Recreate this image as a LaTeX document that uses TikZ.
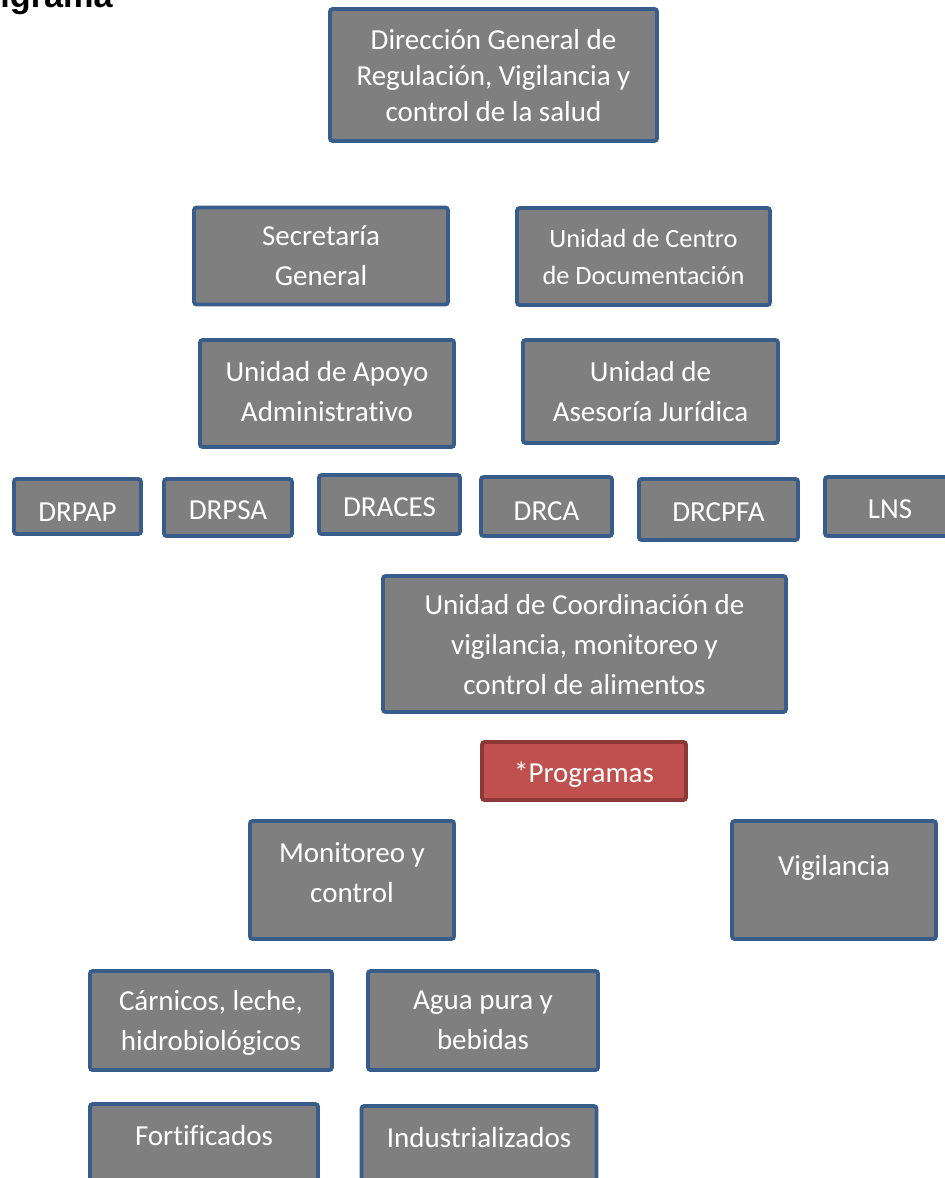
\documentclass[tikz,border=0pt]{standalone}
\usepackage{fontspec}
\setmainfont{Carlito}[Ligatures=NoCommon]
\newfontfamily\titlefont{Liberation Sans}
\definecolor{boxgray}{RGB}{127,127,127}
\definecolor{boxblue}{RGB}{56,93,138}
\definecolor{progred}{RGB}{192,80,77}
\definecolor{progborder}{RGB}{140,56,54}
\begin{document}
\begin{tikzpicture}[x=0.02cm, y=-0.02cm,
    unit/.style={draw=boxblue, fill=boxgray, line width=2.2pt, rounded corners=1.5pt,
        text=white, align=center, inner sep=0pt, font=\fontsize{16.5}{22.8}\selectfont},
    prog/.style={unit, draw=progborder, fill=progred}]
\useasboundingbox (0,0) rectangle (945,1178);
\node[anchor=base west, inner sep=0pt, font=\titlefont\bfseries\fontsize{19.5}{20}\selectfont] (title) at (0,7) {igrama};

\node at (493.5,75)[unit, minimum width=6.54cm, minimum height=2.64cm, text depth=-0.14cm, font=\fontsize{16.5}{20.5}\selectfont] (dgr) {Dirección General de\\Regulación, Vigilancia y\\control de la salud};

\node at (321,256)[unit, minimum width=5.08cm, minimum height=1.94cm, text depth=-0.08cm] (sg) {Secretaría\\General};
\node at (643.5,256.5)[unit, minimum width=5.06cm, minimum height=1.94cm, font=\fontsize{15}{21}\selectfont] (ucd) {Unidad de Centro\\de Documentación};
\node at (327,393.5)[unit, minimum width=5.08cm, minimum height=2.14cm, text depth=0.08cm] (uaa) {Unidad de Apoyo\\Administrativo};
\node at (650.5,391.5)[unit, minimum width=5.1cm, minimum height=2.06cm] (uaj) {Unidad de\\Asesoría Jurídica};

\node at (77.5,506.5)[unit, minimum width=2.54cm, minimum height=1.1cm, text height=0.58cm] (drpap) {DRPAP};
\node at (228,507.5)[unit, minimum width=2.56cm, minimum height=1.14cm, text height=0.5cm] (drpsa) {DRPSA};
\node at (389.5,504.5)[unit, minimum width=2.82cm, minimum height=1.18cm, text height=0.5cm] (draces) {DRACES};
\node at (546.5,506.5)[unit, minimum width=2.62cm, minimum height=1.18cm, text height=0.58cm] (drca) {DRCA};
\node at (718.5,509.5)[unit, minimum width=3.18cm, minimum height=1.22cm, text height=0.5cm] (drcpfa) {DRCPFA};
\node at (890,506.5)[unit, minimum width=2.6cm, minimum height=1.18cm, text height=0.5cm] (lns) {LNS};

\node at (584.5,644)[unit, minimum width=8.06cm, minimum height=2.72cm, text depth=-0.12cm] (ucv) {Unidad de Coordinación de\\vigilancia, monitoreo y\\control de alimentos};
\node at (584,771)[prog, minimum width=4.08cm, minimum height=1.16cm, text height=0.54cm] (prog) {*Programas};

\node at (352,880)[unit, minimum width=4.08cm, minimum height=2.36cm, text depth=0.3cm] (myc) {Monitoreo y\\control};
\node at (834,880)[unit, minimum width=4.08cm, minimum height=2.36cm, text height=0.53cm, text depth=0.72cm] (vig) {Vigilancia};

\node at (211,1020.5)[unit, minimum width=4.84cm, minimum height=1.98cm, text depth=-0.08cm] (car) {Cárnicos, leche,\\hidrobiológicos};
\node at (483,1020.5)[unit, minimum width=4.6cm, minimum height=1.98cm, text depth=-0.12cm] (agua) {Agua pura y\\bebidas};

\node at (204,1151)[unit, minimum width=4.56cm, minimum height=1.88cm, text depth=0.64cm] (fort) {Fortificados};
\node at (479,1152)[unit, minimum width=4.7cm, minimum height=1.84cm, text depth=0.6cm] (ind) {Industrializados};
\end{tikzpicture}
\end{document}
